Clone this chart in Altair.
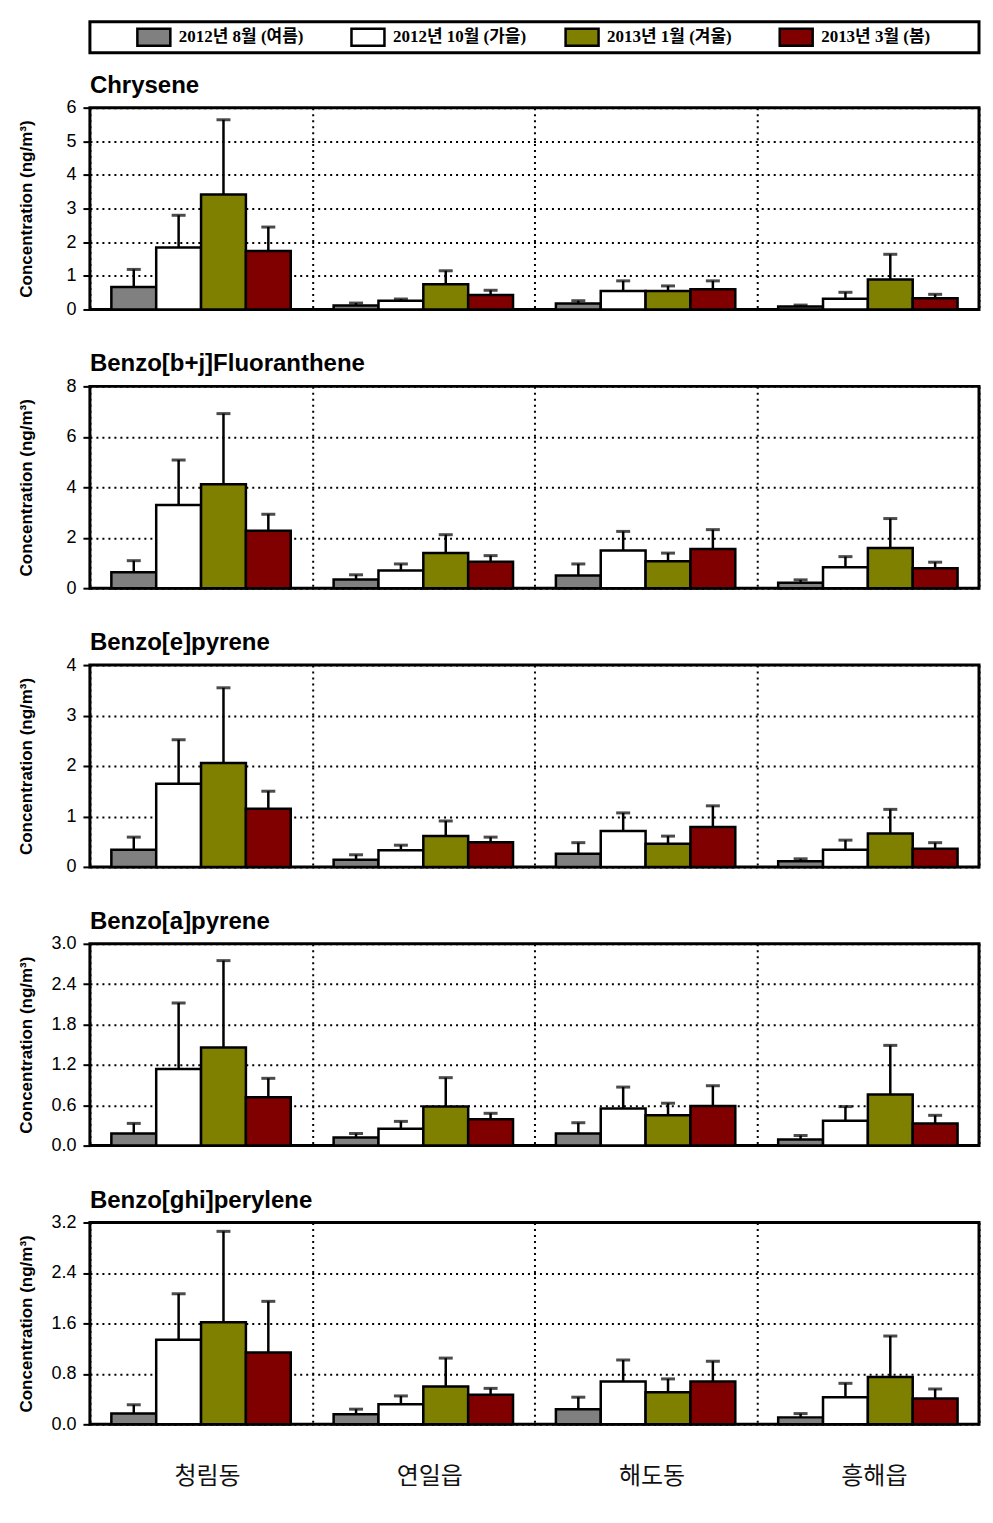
import altair as alt
import pandas as pd

sites = ["청림동", "연일읍", "해도동", "흥해읍"]
series = ["2012년 8월 (여름)", "2012년 10월 (가을)", "2013년 1월 (겨울)", "2013년 3월 (봄)"]
colors = ["#808080", "#FFFFFF", "#808000", "#800000"]
compounds = ["Chrysene", "Benzo[b+j]Fluoranthene", "Benzo[e]pyrene",
             "Benzo[a]pyrene", "Benzo[ghi]perylene"]

# mean values [site][series]
chr_mean = [[0.67, 1.84, 3.42, 1.74], [0.12, 0.26, 0.75, 0.43],
            [0.18, 0.55, 0.55, 0.60], [0.09, 0.32, 0.89, 0.33]]
chr_sd = [[0.52, 0.96, 2.22, 0.71], [0.07, 0.05, 0.40, 0.14],
          [0.08, 0.30, 0.15, 0.25], [0.04, 0.19, 0.75, 0.12]]

bjf_mean = [[0.63, 3.30, 4.12, 2.28], [0.34, 0.70, 1.39, 1.05],
            [0.50, 1.49, 1.07, 1.55], [0.21, 0.83, 1.59, 0.79]]
bjf_sd = [[0.46, 1.78, 2.80, 0.65], [0.19, 0.26, 0.73, 0.24],
          [0.46, 0.76, 0.32, 0.77], [0.12, 0.42, 1.17, 0.24]]

bep_mean = [[0.34, 1.65, 2.06, 1.15], [0.14, 0.33, 0.61, 0.49],
            [0.26, 0.71, 0.46, 0.79], [0.11, 0.34, 0.66, 0.36]]
bep_sd = [[0.25, 0.87, 1.49, 0.35], [0.10, 0.10, 0.30, 0.10],
          [0.22, 0.36, 0.15, 0.42], [0.05, 0.19, 0.48, 0.12]]

bap_mean = [[0.18, 1.14, 1.46, 0.72], [0.12, 0.25, 0.58, 0.39],
            [0.18, 0.55, 0.45, 0.59], [0.09, 0.37, 0.76, 0.33]]
bap_sd = [[0.15, 0.98, 1.29, 0.28], [0.06, 0.11, 0.43, 0.09],
          [0.16, 0.32, 0.18, 0.30], [0.06, 0.21, 0.73, 0.12]]

bgp_mean = [[0.17, 1.34, 1.62, 1.14], [0.16, 0.32, 0.60, 0.47],
            [0.24, 0.68, 0.51, 0.68], [0.11, 0.43, 0.75, 0.41]]
bgp_sd = [[0.14, 0.73, 1.44, 0.81], [0.08, 0.13, 0.45, 0.10],
          [0.19, 0.34, 0.21, 0.32], [0.06, 0.22, 0.65, 0.15]]

y_max = [6, 8, 4, 3.0, 3.2]
y_ticks = [[0, 1, 2, 3, 4, 5, 6], [0, 2, 4, 6, 8], [0, 1, 2, 3, 4],
           [0, 0.6, 1.2, 1.8, 2.4, 3.0], [0, 0.8, 1.6, 2.4, 3.2]]
y_fmt = ["d", "d", "d", ".1f", ".1f"]

means = [chr_mean, bjf_mean, bep_mean, bap_mean, bgp_mean]
sds = [chr_sd, bjf_sd, bep_sd, bap_sd, bgp_sd]

W = 890
H = 202
LAB_FONT = "Liberation Sans, Arial, sans-serif"
KR_FONT = "Noto Sans CJK KR"


def make_df(m, s):
    rows = []
    for i, site in enumerate(sites):
        for j, ser in enumerate(series):
            rows.append({"site": site, "series": ser, "mean": m[i][j],
                         "upper": m[i][j] + s[i][j]})
    return pd.DataFrame(rows)


def panel(k, last):
    df = make_df(means[k], sds[k])
    xaxis = alt.Axis(
        title=None, ticks=False, domain=False,
        labels=last, labelFont=KR_FONT, labelFontSize=24, labelColor="#111111",
        labelPadding=40, labelAngle=0, labelOffset=6,
        grid=True, gridColor="black", gridDash=[2, 4], gridWidth=2,
        tickBand="extent",
        minExtent=0 if last else 22,
    )
    x = alt.X("site:N", sort=sites,
              scale=alt.Scale(paddingInner=0, paddingOuter=0),
              axis=xaxis)
    xo = alt.XOffset("series:N", sort=series,
                     scale=alt.Scale(paddingInner=0, paddingOuter=0.478))
    yaxis = alt.Axis(
        title="Concentration (ng/m³)", titleFont=LAB_FONT, titleFontSize=17,
        titleFontWeight="bold", titleColor="black",
        titleX=-54, titleY=H / 2, titleAngle=270,
        values=y_ticks[k], format=y_fmt[k],
        labelFont=LAB_FONT, labelFontSize=18, labelColor="black",
        labelPadding=7,
        ticks=True, tickSize=7, tickColor="black", tickWidth=2,
        domain=False,
        grid=True, gridColor="black", gridDash=[2, 4], gridWidth=2,
    )
    yscale = alt.Scale(domain=[0, y_max[k]], nice=False)
    base = alt.Chart(df).encode(x=x, xOffset=xo)
    bars = base.mark_bar(stroke="black", strokeWidth=2.5).encode(
        y=alt.Y("mean:Q", scale=yscale, axis=yaxis),
        color=alt.Color("series:N", sort=series,
                        scale=alt.Scale(domain=series, range=colors),
                        legend=None),
    )
    rule = base.mark_rule(color="black", strokeWidth=2.5).encode(
        y=alt.Y("mean:Q", scale=yscale, axis=yaxis),
        y2="upper:Q",
    )
    cap = base.mark_tick(color="black", thickness=3, size=14,
                         orient="horizontal").encode(
        y=alt.Y("upper:Q", scale=yscale, axis=yaxis),
    )
    return alt.layer(bars, rule, cap).properties(
        width=W, height=H,
        title=alt.TitleParams(
            text=compounds[k], anchor="start", frame="group",
            font=LAB_FONT, fontSize=24, fontWeight="bold", color="black",
            offset=1,
        ),
    )


leg_df = pd.DataFrame({"series": series})
leg_x = alt.X("series:N", sort=series, axis=None,
              scale=alt.Scale(type="point", range=[64, 707], padding=0))
leg_base = alt.Chart(leg_df).encode(x=leg_x)
swatch = leg_base.mark_point(
    shape="M-1,-0.515L1,-0.515L1,0.515L-1,0.515Z", size=1089,
    filled=True, stroke="black", strokeWidth=2.5, opacity=1,
).encode(color=alt.Color("series:N", sort=series,
                         scale=alt.Scale(domain=series, range=colors),
                         legend=None))
leg_text = leg_base.mark_text(
    align="left", baseline="middle", dx=25,
    font="Liberation Serif, " + KR_FONT, fontSize=17, fontWeight="bold",
    color="black",
).encode(text="series:N")
legend_chart = alt.layer(swatch, leg_text).properties(width=W, height=31)

panels = [panel(k, k == 4) for k in range(5)]

chart = alt.vconcat(legend_chart, *panels, spacing=17).resolve_scale(
    color="independent", y="independent", x="independent"
).configure_view(
    stroke="black", strokeWidth=3
).properties(
    padding={"left": 8, "top": 11, "right": 4, "bottom": 4},
    background="white",
)

chart.save("out.html", embed_options={"renderer": "svg", "actions": False})
